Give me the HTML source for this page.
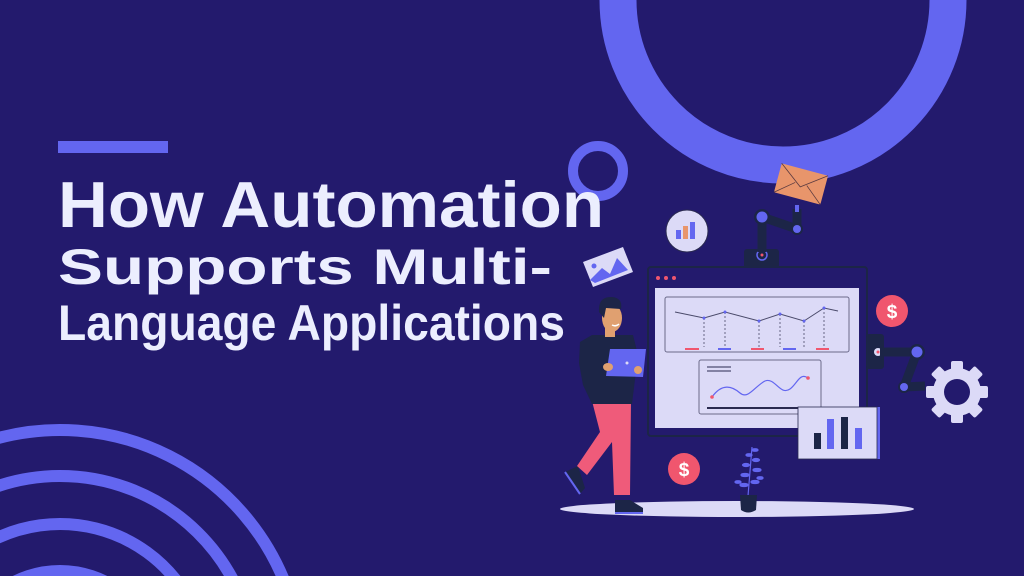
<!DOCTYPE html>
<html><head><meta charset="utf-8"><style>
html,body{margin:0;padding:0;background:#231a6d;width:1024px;height:576px;overflow:hidden;}
svg{display:block}
</style></head><body>
<svg width="1024" height="576" viewBox="0 0 1024 576" xmlns="http://www.w3.org/2000/svg" overflow="hidden">
<rect width="1024" height="576" fill="#231a6d"/>
<path d="M618 0 A165 165 0 0 0 948 0" fill="none" stroke="#6366f0" stroke-width="37"/>
<circle cx="598" cy="171" r="25" fill="none" stroke="#6366f0" stroke-width="10"/>
<g fill="none" stroke="#6366f0" stroke-width="12">
<path d="M-10 440.3 A242 242 0 0 1 287.7 590"/>
<path d="M-10 488.9 A196 196 0 0 1 238 590"/>
<path d="M-10 541.6 A148 148 0 0 1 183.2 590"/>
<path d="M1 590 A101 101 0 0 1 119 590"/>
</g>
<rect x="58" y="141" width="110" height="12" fill="#6366f0"/>
<g font-family="Liberation Sans, sans-serif" font-weight="bold" fill="#eceefe">
<text x="58" y="227" font-size="65" textLength="546" lengthAdjust="spacingAndGlyphs">How Automation</text>
<text x="58" y="284" font-size="50" textLength="494" lengthAdjust="spacingAndGlyphs">Supports Multi-</text>
<text x="58" y="340" font-size="50" textLength="507" lengthAdjust="spacingAndGlyphs">Language Applications</text>
</g>
<ellipse cx="737" cy="509" rx="177" ry="8" fill="#dcdaf7"/>
<rect x="744" y="249" width="35" height="19" rx="3" fill="#1c2547"/>
<circle cx="762" cy="255" r="5" fill="none" stroke="#6366f0" stroke-width="1.5"/>
<circle cx="762" cy="255" r="1.5" fill="#f0566e"/>
<path d="M762 252 L762 217 L797 229 L797 209" fill="none" stroke="#1c2547" stroke-width="9" stroke-linejoin="round"/>
<circle cx="762" cy="217" r="8" fill="#1c2547"/><circle cx="762" cy="217" r="5.5" fill="#6366f0"/>
<circle cx="797" cy="229" r="6" fill="#1c2547"/><circle cx="797" cy="229" r="4" fill="#6366f0"/>
<rect x="795" y="205" width="4" height="7" fill="#6366f0"/>
<g transform="translate(801,184) rotate(15)">
<rect x="-24" y="-15" width="48" height="30" rx="2" fill="#e8956b"/>
<path d="M-24 -15 L0 3 L24 -15 M-24 15 L-6 0 M24 15 L6 0" fill="none" stroke="#5a3a40" stroke-width="0.8"/>
</g>
<circle cx="687" cy="231" r="21" fill="#dcdaf7" stroke="#2a2a50" stroke-width="1"/>
<rect x="676" y="230" width="5" height="9" fill="#6366f0"/>
<rect x="683" y="226" width="5" height="13" fill="#e8956b"/>
<rect x="690" y="222" width="5" height="17" fill="#6366f0"/>
<polygon points="583,262 623,247 633,272 593,287" fill="#dcdaf7"/>
<polygon points="590,280 602,268 610,274 617,258 628,270 595,283" fill="#6366f0"/>
<circle cx="594" cy="266" r="2.5" fill="#6366f0"/>
<rect x="648" y="267" width="219" height="169" rx="3" fill="#231a6d" stroke="#1c2547" stroke-width="2"/>
<circle cx="658" cy="278" r="2" fill="#f0566e"/><circle cx="666" cy="278" r="2" fill="#f0566e"/><circle cx="674" cy="278" r="2" fill="#f0566e"/>
<rect x="655" y="288" width="204" height="140" fill="#dcdaf7"/>
<rect x="665" y="297" width="184" height="55" rx="2" fill="none" stroke="#6b6a8a" stroke-width="1"/>
<polyline points="675,312 704,318 725,312 759,321 780,314 804,321 824,308 838,311" fill="none" stroke="#4a4a6a" stroke-width="1"/>
<g stroke="#4a4a6a" stroke-width="0.8" stroke-dasharray="2,2">
<line x1="704" y1="318" x2="704" y2="347"/><line x1="725" y1="312" x2="725" y2="347"/><line x1="759" y1="321" x2="759" y2="347"/><line x1="780" y1="314" x2="780" y2="347"/><line x1="804" y1="321" x2="804" y2="347"/><line x1="824" y1="308" x2="824" y2="347"/>
</g>
<g fill="#6366f0"><circle cx="704" cy="318" r="1.5"/><circle cx="725" cy="312" r="1.5"/><circle cx="759" cy="321" r="1.5"/><circle cx="780" cy="314" r="1.5"/><circle cx="804" cy="321" r="1.5"/><circle cx="824" cy="308" r="1.5"/></g>
<rect x="685" y="348" width="14" height="2" fill="#f0566e"/>
<rect x="718" y="348" width="13" height="2" fill="#6366f0"/>
<rect x="751" y="348" width="13" height="2" fill="#f0566e"/>
<rect x="783" y="348" width="13" height="2" fill="#6366f0"/>
<rect x="816" y="348" width="13" height="2" fill="#f0566e"/>
<rect x="699" y="360" width="122" height="54" rx="2" fill="none" stroke="#6b6a8a" stroke-width="1"/>
<line x1="707" y1="367" x2="731" y2="367" stroke="#2a2a50" stroke-width="1"/>
<line x1="707" y1="371" x2="731" y2="371" stroke="#2a2a50" stroke-width="1"/>
<path d="M712 397 C722 383 732 386 740 393 C748 400 755 386 765 381 C775 377 780 396 790 389 C797 384 800 372 808 378" fill="none" stroke="#6366f0" stroke-width="1.2"/>
<circle cx="712" cy="397" r="1.8" fill="#f0566e"/><circle cx="808" cy="378" r="1.8" fill="#f0566e"/>
<rect x="707" y="407" width="91" height="2" fill="#2a2a50"/>
<rect x="800" y="407" width="80" height="52" fill="#6366f0"/>
<rect x="798" y="407" width="79" height="52" fill="#dcdaf7" stroke="#2a2a50" stroke-width="0.8"/>
<rect x="814" y="433" width="7" height="16" fill="#1c2547"/>
<rect x="827" y="419" width="7" height="30" fill="#6366f0"/>
<rect x="841" y="417" width="7" height="32" fill="#1c2547"/>
<rect x="855" y="428" width="7" height="21" fill="#6366f0"/>
<rect x="866" y="334" width="18" height="35" rx="3" fill="#1c2547"/>
<circle cx="878" cy="352" r="4" fill="#dcdaf7"/><circle cx="878" cy="352" r="1.5" fill="#f0566e"/>
<path d="M880 352 L917 352 L904 387 L925 386" fill="none" stroke="#1c2547" stroke-width="9" stroke-linejoin="round"/>
<circle cx="917" cy="352" r="8" fill="#1c2547"/><circle cx="917" cy="352" r="5.5" fill="#6366f0"/>
<circle cx="904" cy="387" r="6" fill="#1c2547"/><circle cx="904" cy="387" r="4" fill="#6366f0"/>
<g transform="translate(957,392)" fill="#dcdaf7">
<circle r="24"/>
<g><rect x="-6" y="-31" width="12" height="14" rx="2"/><rect x="-6" y="17" width="12" height="14" rx="2"/><rect x="-31" y="-6" width="14" height="12" rx="2"/><rect x="17" y="-6" width="14" height="12" rx="2"/></g>
<g transform="rotate(45)"><rect x="-6" y="-31" width="12" height="14" rx="2"/><rect x="-6" y="17" width="12" height="14" rx="2"/><rect x="-31" y="-6" width="14" height="12" rx="2"/><rect x="17" y="-6" width="14" height="12" rx="2"/></g>
<circle r="13" fill="#231a6d"/>
</g>
<circle cx="892" cy="311" r="16" fill="#f0566e"/>
<text x="892" y="318" font-family="Liberation Sans, sans-serif" font-size="19" font-weight="bold" fill="#fff" text-anchor="middle">$</text>
<circle cx="684" cy="469" r="16" fill="#f0566e"/>
<text x="684" y="476" font-family="Liberation Sans, sans-serif" font-size="19" font-weight="bold" fill="#fff" text-anchor="middle">$</text>
<g stroke="#6366f0" stroke-width="1.2" fill="#6366f0">
<line x1="748" y1="496" x2="752" y2="447"/>
<ellipse cx="744" cy="485" rx="4" ry="1.5"/><ellipse cx="755" cy="482" rx="4" ry="1.5"/><ellipse cx="745" cy="475" rx="4" ry="1.5"/><ellipse cx="757" cy="470" rx="4" ry="1.5"/><ellipse cx="746" cy="465" rx="3.5" ry="1.5"/><ellipse cx="756" cy="460" rx="3.5" ry="1.5"/><ellipse cx="749" cy="455" rx="3" ry="1.3"/><ellipse cx="755" cy="450" rx="3" ry="1.3"/><ellipse cx="738" cy="482" rx="3" ry="1.3"/><ellipse cx="760" cy="478" rx="3" ry="1.3"/>
</g>
<path d="M740 495 L757 495 L756 510 Q748 515 741 510 Z" fill="#1c2547"/>
<path d="M565 472 L578 466 L585 488 L580 494 Z" fill="#1c2547"/>
<path d="M565 472 L580 494" stroke="#6366f0" stroke-width="2"/>
<path d="M615 500 L630 500 L643 508 L643 513 L615 513 Z" fill="#1c2547"/>
<line x1="615" y1="513" x2="643" y2="513" stroke="#6366f0" stroke-width="2"/>
<polygon points="592,401 631,401 630,495 614,495 612,442 587,475 577,466 600,432" fill="#ef5b7a"/>
<polygon points="580,342 592,335 633,335 638,355 632,404 592,404 583,385 579,363" fill="#1c2547"/>
<rect x="605" y="327" width="10" height="10" fill="#e0a070"/>
<ellipse cx="612" cy="318" rx="10" ry="14" fill="#e0a070"/>
<path d="M599 312 Q598 296 612 297 Q623 298 621 309 L606 308 L604 318 Z" fill="#1c2547"/>
<path d="M612 325 Q616 327 619 324" stroke="#fff" stroke-width="1.5" fill="none"/>
<polygon points="610,349 646,349 643,377 606,376" fill="#6366f0"/>
<circle cx="627" cy="363" r="1.5" fill="#dcdaf7"/>
<ellipse cx="608" cy="367" rx="5" ry="4" fill="#e0a070"/>
<ellipse cx="638" cy="370" rx="4" ry="4" fill="#e0a070"/>
</svg>
</body></html>
